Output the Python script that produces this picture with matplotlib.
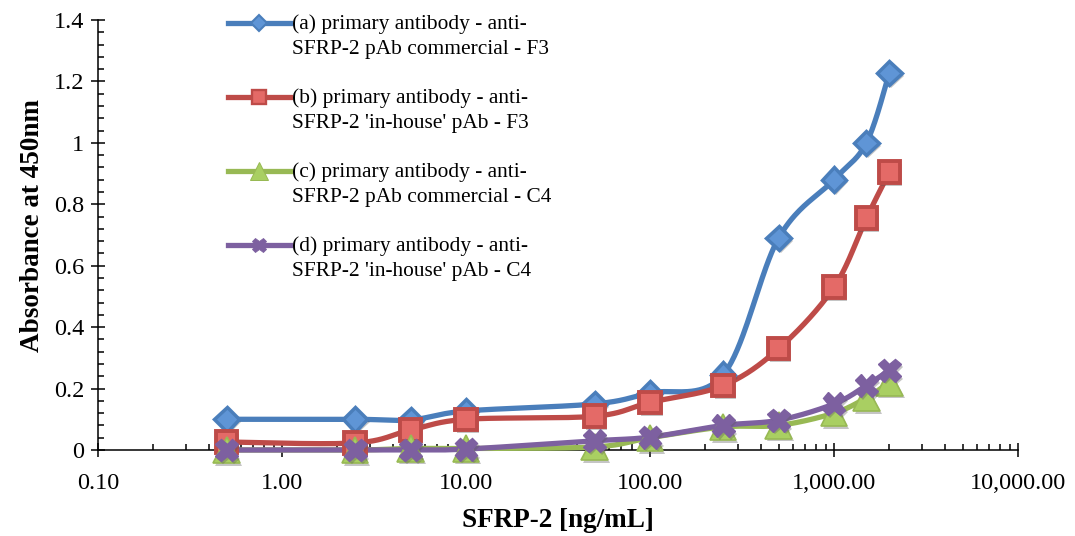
import numpy as np
import matplotlib
matplotlib.use("Agg")
import matplotlib.pyplot as plt
from matplotlib.ticker import FixedLocator, FuncFormatter, MultipleLocator
from matplotlib import patheffects as pe

# SFRP-2 concentration series (ng/mL)
concentration = [0.5, 2.5, 5, 10, 50, 100, 250, 500, 1000, 1500, 2000]

# Absorbance at 450 nm for each antibody / fraction combination
abs_a = [0.100, 0.100, 0.098, 0.127, 0.150, 0.186, 0.245, 0.690, 0.880, 1.000, 1.228]
abs_b = [0.026, 0.023, 0.065, 0.100, 0.110, 0.155, 0.210, 0.330, 0.530, 0.755, 0.905]
abs_c = [0.000, 0.000, 0.005, 0.005, 0.010, 0.040, 0.075, 0.080, 0.120, 0.170, 0.220]
abs_d = [0.000, 0.000, 0.000, 0.003, 0.030, 0.042, 0.080, 0.097, 0.150, 0.210, 0.260]

labels = [
    ("(a) primary antibody - anti-", "SFRP-2 pAb commercial - F3"),
    ("(b) primary antibody - anti-", "SFRP-2 'in-house' pAb - F3"),
    ("(c) primary antibody - anti-", "SFRP-2 pAb commercial - C4"),
    ("(d) primary antibody - anti-", "SFRP-2 'in-house' pAb - C4"),
]

x_ticks = [0.1, 1, 10, 100, 1000, 10000]
y_ticks = [0, 0.2, 0.4, 0.6, 0.8, 1.0, 1.2, 1.4]

styles = [
    dict(color="#4a7ebb", marker="D", ms=12.5, mfc="#5f95d6", mec="#4a7ebb", mew=2.5),
    dict(color="#be4b48", marker="s", ms=15.5, mfc="#e46a67", mec="#be4b48", mew=2.8),
    dict(color="#98b954", marker="^", ms=19, mfc="#a9cf62", mec="#98b954", mew=1.2),
    dict(color="#7d60a0", marker="X", ms=16.5, mfc="#7d60a0", mec="#7d60a0", mew=1.0),
]

plt.rcParams["font.family"] = ["Liberation Serif", "DejaVu Serif"]

W, H = 1075, 536
fig = plt.figure(figsize=(W / 100, H / 100), dpi=100)
ax = fig.add_axes([98 / W, 86 / H, 920 / W, 430 / H])

# scale factors so the spline is built in an approximately isotropic space
SX, SY = 184.0, 307.0


def smooth(xs, ys, n=40):
    """Bezier smoothing through every point (Catmull-Rom style control points)."""
    px = np.log10(np.asarray(xs, float)) * SX
    py = np.asarray(ys, float) * SY
    P = np.column_stack([px, py])
    out = []
    for i in range(len(P) - 1):
        p0 = P[i - 1] if i > 0 else P[i]
        p1, p2 = P[i], P[i + 1]
        p3 = P[i + 2] if i + 2 < len(P) else P[i + 1]
        c1 = p1 + (p2 - p0) / 6.0
        c2 = p2 - (p3 - p1) / 6.0
        t = np.linspace(0, 1, n)[:, None]
        seg = ((1 - t) ** 3) * p1 + 3 * ((1 - t) ** 2) * t * c1 + 3 * (1 - t) * t ** 2 * c2 + t ** 3 * p2
        out.append(seg if i == 0 else seg[1:])
    S = np.vstack(out)
    return 10 ** (S[:, 0] / SX), S[:, 1] / SY


shadow = [pe.SimplePatchShadow(offset=(1.5, -2.0), shadow_rgbFace="0.35", alpha=0.35), pe.Normal()]

for ys, st in zip([abs_a, abs_b, abs_c, abs_d], styles):
    sx, sy = smooth(concentration, ys)
    ax.plot(sx, sy, color=st["color"], lw=3.8, solid_capstyle="round", zorder=3, clip_on=False)
    ax.plot(concentration, ys, ls="none", marker=st["marker"], ms=st["ms"], mfc=st["mfc"],
            mec=st["mec"], mew=st["mew"], zorder=4, clip_on=False, path_effects=shadow)

ax.set_xscale("log")
ax.set_xlim(0.1, 10000)
ax.set_ylim(0, 1.4)
ax.xaxis.set_major_locator(FixedLocator(x_ticks))
ax.xaxis.set_minor_locator(FixedLocator([m * 10.0 ** e for e in range(-1, 4) for m in range(2, 10)]))
ax.xaxis.set_major_formatter(FuncFormatter(lambda v, p: f"{v:,.2f}"))
ax.yaxis.set_major_locator(FixedLocator(y_ticks))
ax.yaxis.set_minor_locator(MultipleLocator(0.04))
ax.yaxis.set_major_formatter(FuncFormatter(lambda v, p: f"{v:g}"))

for side in ("top", "right"):
    ax.spines[side].set_visible(False)
for side in ("left", "bottom"):
    ax.spines[side].set_linewidth(1.1)

ax.tick_params(axis="both", which="major", direction="inout", length=9.5, width=1.1,
               labelsize=17.5, pad=5)
ax.tick_params(axis="both", which="minor", direction="in", length=4.3, width=1.1)
ax.tick_params(axis="x", which="major", pad=12)

ax.set_xlabel("SFRP-2 [ng/mL]", fontsize=19.5, fontweight="bold")
ax.set_ylabel("Absorbance at 450nm", fontsize=19.5, fontweight="bold")
ax.xaxis.set_label_coords(0.5, -0.135)
ax.yaxis.set_label_coords(-0.058, 0.521)

# legend: handle lines plus two-line captions laid out in pixels
for k, ((l1, l2), st) in enumerate(zip(labels, styles)):
    y_px = 23 + 74 * k
    yf = 1 - y_px / H
    fig.add_artist(plt.Line2D([228 / W, 290 / W], [yf, yf], transform=fig.transFigure,
                              color=st["color"], lw=3.8))
    fig.add_artist(plt.Line2D([259 / W], [yf], transform=fig.transFigure, ls="none",
                              marker=st["marker"], ms=st["ms"] * 0.65, mfc=st["mfc"],
                              mec=st["mec"], mew=st["mew"] * 0.6))
    fig.text(292 / W, 1 - (y_px + 6) / H, l1, fontsize=15.4, va="baseline", ha="left")
    fig.text(292 / W, 1 - (y_px + 31) / H, l2, fontsize=15.4, va="baseline", ha="left")

fig.savefig("out.png", dpi=100)
